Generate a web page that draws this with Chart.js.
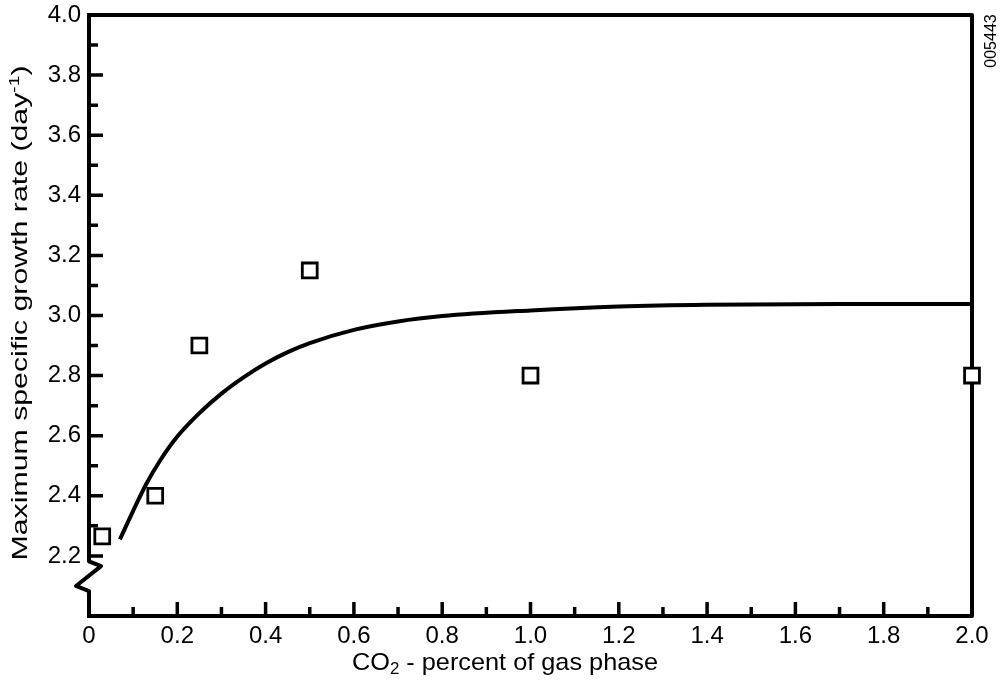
<!DOCTYPE html>
<html><head><meta charset="utf-8">
<script src="https://cdn.jsdelivr.net/npm/chart.js@4"></script>
<style>html,body{margin:0;padding:0;background:#fff}</style>
</head><body>
<canvas id="c" width="1000" height="681"></canvas>
<script>
// ---- data ----
const xTickValues = [0, 0.2, 0.4, 0.6, 0.8, 1.0, 1.2, 1.4, 1.6, 1.8, 2.0];
const xTickLabels = ['0', '0.2', '0.4', '0.6', '0.8', '1.0', '1.2', '1.4', '1.6', '1.8', '2.0'];
const xMinorTicks = [0.1, 0.3, 0.5, 0.7, 0.9, 1.1, 1.3, 1.5, 1.7, 1.9];
const yTickValues = [2.2, 2.4, 2.6, 2.8, 3.0, 3.2, 3.4, 3.6, 3.8, 4.0];
const yTickLabels = ['2.2', '2.4', '2.6', '2.8', '3.0', '3.2', '3.4', '3.6', '3.8', '4.0'];
const yMinorTicks = [2.3, 2.5, 2.7, 2.9, 3.1, 3.3, 3.5, 3.7, 3.9];

const co2Measured = [0.03, 0.15, 0.25, 0.50, 1.00, 2.00];
const rateMeasured = [2.265, 2.40, 2.90, 3.15, 2.80, 2.80];

const co2Curve = [0.07, 0.10, 0.13, 0.16, 0.20, 0.25, 0.30, 0.35, 0.40, 0.45, 0.50, 0.60, 0.70, 0.80, 1.00, 1.20, 1.40, 1.70, 2.00];
const rateCurve = [2.255, 2.35, 2.44, 2.515, 2.597, 2.675, 2.74, 2.794, 2.84, 2.878, 2.908, 2.952, 2.98, 2.998, 3.017, 3.03, 3.036, 3.038, 3.038];

const xTitleParts = [{t:'CO', s:24, dy:0}, {t:'2', s:16, dy:4}, {t:' - percent of gas phase', s:24, dy:0}];
const yTitleParts = [{t:'Maximum specific growth rate (day', s:22, dy:0}, {t:'-1', s:14, dy:-8}, {t:')', s:22, dy:0}];
const figureCode = '005443';

const FONT = '"Liberation Sans", Arial, Helvetica, sans-serif';

function drawParts(ctx, parts, cx, baseY, targetWidth) {
  let total = 0;
  parts.forEach(p => { ctx.font = p.s + 'px ' + FONT; p.w = ctx.measureText(p.t).width; total += p.w; });
  const sx = targetWidth ? targetWidth / total : 1;
  ctx.save();
  ctx.translate(cx, baseY);
  ctx.scale(sx, 1);
  let x = -total / 2;
  ctx.textAlign = 'left';
  ctx.textBaseline = 'alphabetic';
  parts.forEach(p => { ctx.font = p.s + 'px ' + FONT; ctx.fillText(p.t, x, p.dy); x += p.w; });
  ctx.restore();
}

const framePlugin = {
  id: 'frame',
  beforeDatasetsDraw(chart) {
    const ctx = chart.ctx, xs = chart.scales.x, ys = chart.scales.y, a = chart.chartArea;
    ctx.save();
    ctx.strokeStyle = '#000';
    ctx.lineCap = 'square';
    ctx.lineJoin = 'round';
    ctx.lineWidth = 4;
    ctx.beginPath();
    ctx.moveTo(a.left, a.top);
    ctx.lineTo(a.right, a.top);
    ctx.lineTo(a.right, a.bottom);
    ctx.lineTo(a.left, a.bottom);
    ctx.stroke();
    // left axis with break
    ctx.beginPath();
    ctx.moveTo(a.left, a.top);
    ctx.lineTo(a.left, ys.getPixelForValue(2.182));
    ctx.lineTo(a.left + 12, ys.getPixelForValue(2.166));
    ctx.lineTo(a.left - 13, ys.getPixelForValue(2.100));
    ctx.lineTo(a.left, ys.getPixelForValue(2.083));
    ctx.lineTo(a.left, a.bottom);
    ctx.stroke();
    // inward ticks
    ctx.lineWidth = 3.5;
    ctx.lineCap = 'butt';
    ctx.beginPath();
    xTickValues.forEach(v => { if (v > 0 && v < 2) { const px = xs.getPixelForValue(v); ctx.moveTo(px, a.bottom); ctx.lineTo(px, a.bottom - 14); } });
    xMinorTicks.forEach(v => { const px = xs.getPixelForValue(v); ctx.moveTo(px, a.bottom); ctx.lineTo(px, a.bottom - 9); });
    yTickValues.forEach(v => { if (v < 4) { const py = ys.getPixelForValue(v); ctx.moveTo(a.left, py); ctx.lineTo(a.left + 14, py); } });
    yMinorTicks.forEach(v => { const py = ys.getPixelForValue(v); ctx.moveTo(a.left, py); ctx.lineTo(a.left + 9, py); });
    ctx.stroke();
    ctx.restore();
  },
  afterDraw(chart) {
    const ctx = chart.ctx;
    ctx.save();
    ctx.fillStyle = '#000';
    drawParts(ctx, xTitleParts, 505, 670, 306);
    ctx.save();
    ctx.translate(27, 313);
    ctx.rotate(-Math.PI / 2);
    drawParts(ctx, yTitleParts, 0, 0, 495);
    ctx.restore();
    ctx.save();
    ctx.translate(996, 41);
    ctx.rotate(-Math.PI / 2);
    ctx.font = '16px ' + FONT;
    ctx.textAlign = 'center';
    ctx.textBaseline = 'alphabetic';
    ctx.fillText(figureCode, 0, 0);
    ctx.restore();
    ctx.restore();
  }
};

new Chart(document.getElementById('c'), {
  type: 'scatter',
  data: {
    datasets: [
      {
        label: 'fit',
        data: co2Curve.map((x, i) => ({x, y: rateCurve[i]})),
        showLine: true,
        borderColor: '#000',
        borderWidth: 4,
        pointRadius: 0,
        cubicInterpolationMode: 'monotone',
        fill: false,
        clip: false
      },
      {
        label: 'measured',
        data: co2Measured.map((x, i) => ({x, y: rateMeasured[i]})),
        pointStyle: 'rect',
        pointRadius: 10.5,
        pointBorderWidth: 2.8,
        pointBorderColor: '#000',
        pointBackgroundColor: '#fff',
        clip: false
      }
    ]
  },
  options: {
    responsive: false,
    animation: false,
    devicePixelRatio: 1,
    layout: { padding: { top: 15, right: 28, left: 0, bottom: 0 } },
    plugins: { legend: { display: false }, tooltip: { enabled: false } },
    scales: {
      x: {
        type: 'linear', min: 0, max: 2.0,
        grid: { display: false, drawTicks: false },
        border: { display: false },
        afterFit: s => { s.height = 65; s.paddingLeft = 0; s.paddingRight = 0; },
        afterBuildTicks: s => { s.ticks = xTickValues.map(v => ({value: v})); },
        ticks: {
          autoSkip: false, maxRotation: 0, padding: 6, color: '#000',
          font: { family: FONT, size: 24 },
          callback: (v) => { const i = xTickValues.findIndex(t => Math.abs(t - v) < 1e-6); return i >= 0 ? xTickLabels[i] : ''; }
        }
      },
      y: {
        type: 'linear', min: 2.0, max: 4.0,
        grid: { display: false, drawTicks: false },
        border: { display: false },
        afterFit: s => { s.width = 89; s.paddingTop = 0; s.paddingBottom = 0; },
        afterBuildTicks: s => { s.ticks = yTickValues.map(v => ({value: v})); },
        ticks: {
          autoSkip: false, padding: 8, color: '#000',
          font: { family: FONT, size: 24 },
          callback: (v) => { const i = yTickValues.findIndex(t => Math.abs(t - v) < 1e-6); return i >= 0 ? yTickLabels[i] : ''; }
        }
      }
    }
  },
  plugins: [framePlugin]
});
</script>
</body></html>
